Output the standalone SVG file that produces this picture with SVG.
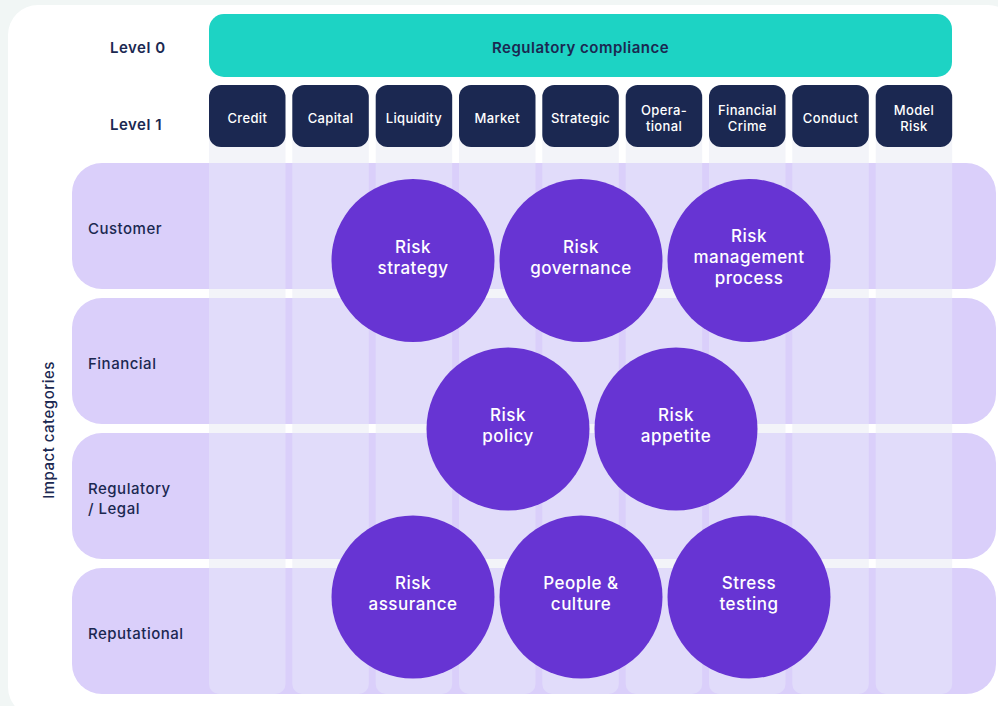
<svg xmlns="http://www.w3.org/2000/svg" width="998" height="706" viewBox="0 0 998 706">
  <style>
    .lvl { font-family: Inter, "Liberation Sans", sans-serif; font-size: 15px; font-weight: 600; fill: #1b2851; letter-spacing: 0.5px; }
    .cat { font-family: Inter, "Liberation Sans", sans-serif; font-size: 15px; font-weight: 500; fill: #1b2851; letter-spacing: 0.5px; }
    .box { fill: #1b2851; }
    .boxt { font-family: Inter, "Liberation Sans", sans-serif; font-size: 13px; font-weight: 500; fill: #ffffff; text-anchor: middle; letter-spacing: 0.35px; }
    .row { fill: #dacffa; }
    .strip { fill: #f3f4f9; }
    .stripIn { fill: #e1dcfa; }
    .circ { fill: #6734d3; }
    .ct { font-family: Inter, "Liberation Sans", sans-serif; font-size: 17px; font-weight: 500; fill: #ffffff; text-anchor: middle; letter-spacing: 0.5px; }
  </style>
  <defs>
    <clipPath id="rowsClip">
      <rect x="72" y="163" width="924" height="126" rx="30"/>
      <rect x="72" y="298" width="924" height="126" rx="30"/>
      <rect x="72" y="433" width="924" height="126" rx="30"/>
      <rect x="72" y="568" width="924" height="126" rx="30"/>
    </clipPath>
    <g id="strips">
      <rect x="209" y="120" width="76.5" height="574" rx="10"/>
      <rect x="292.3" y="120" width="76.5" height="574" rx="10"/>
      <rect x="375.7" y="120" width="76.5" height="574" rx="10"/>
      <rect x="459" y="120" width="76.5" height="574" rx="10"/>
      <rect x="542.3" y="120" width="76.5" height="574" rx="10"/>
      <rect x="625.7" y="120" width="76.5" height="574" rx="10"/>
      <rect x="709" y="120" width="76.5" height="574" rx="10"/>
      <rect x="792.3" y="120" width="76.5" height="574" rx="10"/>
      <rect x="875.7" y="120" width="76.5" height="574" rx="10"/>
    </g>
  </defs>

  <!-- page and panel -->
  <rect x="0" y="0" width="998" height="706" fill="#f1f6f5"/>
  <rect x="8" y="5" width="1010" height="712" rx="30" fill="#ffffff"/>

  <!-- column strips behind the rows -->
  <use href="#strips" class="strip"/>

  <!-- impact category rows -->
  <g id="rows">
    <rect class="row" x="72" y="163" width="924" height="126" rx="30"/>
    <rect class="row" x="72" y="298" width="924" height="126" rx="30"/>
    <rect class="row" x="72" y="433" width="924" height="126" rx="30"/>
    <rect class="row" x="72" y="568" width="924" height="126" rx="30"/>
  </g>
  <g clip-path="url(#rowsClip)">
    <use href="#strips" class="stripIn"/>
  </g>

  <!-- labels -->
  <text class="lvl" x="110" y="53">Level 0</text>
  <text class="lvl" x="110" y="130">Level 1</text>
  <text class="cat" x="88" y="234">Customer</text>
  <text class="cat" x="88" y="369">Financial</text>
  <text class="cat" x="88" y="494">Regulatory</text>
  <text class="cat" x="88" y="514">/ Legal</text>
  <text class="cat" x="88" y="639">Reputational</text>
  <text class="cat" x="0" y="0" text-anchor="middle" transform="translate(54 430) rotate(-90)">Impact categories</text>

  <!-- level 0 -->
  <g id="level0">
    <rect x="209" y="14" width="743" height="63" rx="15" fill="#1dd3c4"/>
    <text class="lvl" x="580.5" y="53" font-size="16" text-anchor="middle">Regulatory compliance</text>
  </g>

  <!-- level 1 -->
  <g id="credit"><rect class="box" x="209" y="85" width="76.5" height="62" rx="12"/><text class="boxt" x="247.3" y="123">Credit</text></g>
  <g id="capital"><rect class="box" x="292.3" y="85" width="76.5" height="62" rx="12"/><text class="boxt" x="330.6" y="123">Capital</text></g>
  <g id="liquidity"><rect class="box" x="375.7" y="85" width="76.5" height="62" rx="12"/><text class="boxt" x="414" y="123">Liquidity</text></g>
  <g id="market"><rect class="box" x="459" y="85" width="76.5" height="62" rx="12"/><text class="boxt" x="497.3" y="123">Market</text></g>
  <g id="strategic"><rect class="box" x="542.3" y="85" width="76.5" height="62" rx="12"/><text class="boxt" x="580.6" y="123">Strategic</text></g>
  <g id="operational"><rect class="box" x="625.7" y="85" width="76.5" height="62" rx="12"/><text class="boxt" x="664" y="115">Opera-</text><text class="boxt" x="664" y="131">tional</text></g>
  <g id="financial-crime"><rect class="box" x="709" y="85" width="76.5" height="62" rx="12"/><text class="boxt" x="747.3" y="115">Financial</text><text class="boxt" x="747.3" y="131">Crime</text></g>
  <g id="conduct"><rect class="box" x="792.3" y="85" width="76.5" height="62" rx="12"/><text class="boxt" x="830.6" y="123">Conduct</text></g>
  <g id="model-risk"><rect class="box" x="875.7" y="85" width="76.5" height="62" rx="12"/><text class="boxt" x="914" y="115">Model</text><text class="boxt" x="914" y="131">Risk</text></g>

  <!-- framework elements -->
  <g id="risk-strategy"><circle class="circ" cx="413" cy="260.5" r="81.5"/><text class="ct" x="413" y="253">Risk</text><text class="ct" x="413" y="274">strategy</text></g>
  <g id="risk-governance"><circle class="circ" cx="581" cy="260.5" r="81.5"/><text class="ct" x="581" y="253">Risk</text><text class="ct" x="581" y="274">governance</text></g>
  <g id="risk-management-process"><circle class="circ" cx="749" cy="260.5" r="81.5"/><text class="ct" x="749" y="242">Risk</text><text class="ct" x="749" y="263">management</text><text class="ct" x="749" y="284">process</text></g>
  <g id="risk-policy"><circle class="circ" cx="508" cy="429" r="81.5"/><text class="ct" x="508" y="421">Risk</text><text class="ct" x="508" y="442">policy</text></g>
  <g id="risk-appetite"><circle class="circ" cx="676" cy="429" r="81.5"/><text class="ct" x="676" y="421">Risk</text><text class="ct" x="676" y="442">appetite</text></g>
  <g id="risk-assurance"><circle class="circ" cx="413" cy="597" r="81.5"/><text class="ct" x="413" y="589">Risk</text><text class="ct" x="413" y="610">assurance</text></g>
  <g id="people-culture"><circle class="circ" cx="581" cy="597" r="81.5"/><text class="ct" x="581" y="589">People &amp;</text><text class="ct" x="581" y="610">culture</text></g>
  <g id="stress-testing"><circle class="circ" cx="749" cy="597" r="81.5"/><text class="ct" x="749" y="589">Stress</text><text class="ct" x="749" y="610">testing</text></g>

  <g id="connectors"/>
</svg>
